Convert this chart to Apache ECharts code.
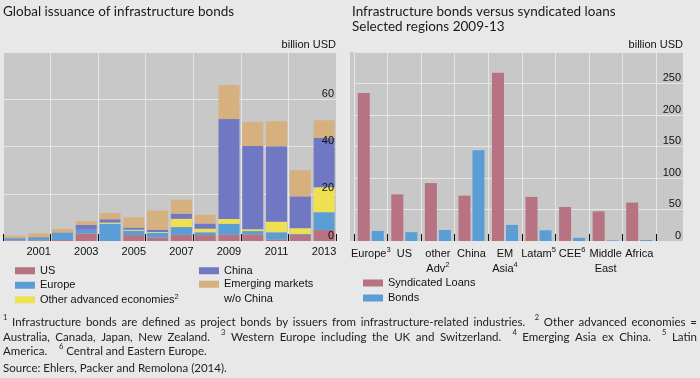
<!DOCTYPE html>
<html>
<head>
<meta charset="UTF-8">
<title>Infrastructure bonds</title>
<style>
	* { margin: 0; padding: 0; }
	html, body { width: 700px; height: 378px; overflow: hidden; background-color: #e8e8e8; }
	#chart { width: 700px; height: 378px; }
</style>
</head>
<body>
<div id="chart"></div>
<script src="https://cdn.jsdelivr.net/npm/echarts@6/dist/echarts.min.js"></script>
<script>
// left panel: issuance by region, billion USD
var years = ['2000', '2001', '2002', '2003', '2004', '2005', '2006', '2007', '2008', '2009', '2010', '2011', '2012', '2013'];
var usBonds = [0.2, 0.3, 0.4, 3.2, 0, 2.5, 1.5, 2.6, 2.5, 2.6, 2.8, 0.7, 2.6, 4.7];
var europeBonds = [0.8, 1.0, 3.0, 1.6, 7.3, 1.9, 2.0, 3.3, 1.2, 4.7, 1.4, 3.0, 0.4, 7.5];
var otherAdvBonds = [0, 0, 0, 0, 0.5, 0.4, 0.3, 3.5, 1.5, 2.0, 0.8, 4.5, 2.4, 10.5];
var chinaBonds = [0.2, 0.3, 0.2, 2.0, 1.4, 0.9, 1.0, 2.2, 2.2, 42.3, 35.2, 31.9, 13.5, 21];
var emBonds = [1.0, 1.6, 1.5, 1.6, 2.6, 4.3, 8.1, 5.9, 3.7, 14.4, 10.2, 10.6, 11.1, 7.4];
var leftTicks = [0, 20, 40, 60, 80];

// right panel: 2009-13 totals
var regions = ['Europe', 'US', 'other Adv', 'China', 'EM Asia', 'Latam', 'CEE', 'Middle East', 'Africa'];
var regionNotes = ['3', '', '2', '', '4', '5', '6', '', ''];
var syndicatedLoans = [235, 74, 92, 72, 267, 70, 54, 47, 61];
var regionBonds = [16, 14, 17.5, 144, 25.5, 17, 5, 1, 1.5];
var rightTicks = [0, 50, 100, 150, 200, 250, 300];

var footLines = [
	'^1 Infrastructure bonds are defined as project bonds by issuers from infrastructure-related industries.  ^2 Other advanced economies =',
	'Australia, Canada, Japan, New Zealand.  ^3 Western Europe including the UK and Switzerland.  ^4 Emerging Asia ex China.  ^5 Latin',
	'America.    ^6 Central and Eastern Europe.',
	'Source: Ehlers, Packer and Remolona (2014).'
];

var plotGray = '#c8c8c8';
var gridWhite = '#e6e6e6';
var pink = '#b77382';
var blue = '#5b9dd5';
var font = 'Liberation Sans';

var chart = echarts.init(document.getElementById('chart'));

// footnotes, first two lines justified like the source
var ctx = document.createElement('canvas').getContext('2d');
function measure(str, size) {
	ctx.font = size + 'px Lato';
	return ctx.measureText(str).width;
}
var notes = [];
function addLine(text, y, justify) {
	var words = text.split(' ');
	var widths = words.map(function(w) {
		return w.charAt(0) === '^' ? measure(w.slice(1), 7.5) : measure(w, 11.5);
	});
	var sum = widths.reduce(function(a, b) { return a + b; }, 0);
	var gap = justify ? (694 - sum) / (words.length - 1) : measure(' ', 11.5);
	var x = 3;
	words.forEach(function(w, i) {
		if (w) {
			var sup = w.charAt(0) === '^';
			notes.push({
				type: 'text',
				x: x,
				y: sup ? y - 4 : y,
				style: {
					text: sup ? w.slice(1) : w,
					font: (sup ? 7.5 : 11.5) + 'px Lato',
					fill: '#222',
					textVerticalAlign: 'middle'
				}
			});
		}
		x += widths[i] + gap;
	});
}
addLine(footLines[0], 322, true);
addLine(footLines[1], 337, true);
addLine(footLines[2], 351, false);
addLine(footLines[3], 368, false);

function yAxisFor(ticks, grid, showLabels, showLines) {
	return {
		type: 'value',
		gridIndex: grid,
		position: 'right',
		offset: 0,
		z: showLabels ? 10 : 0,
		min: ticks[0],
		max: ticks[ticks.length - 1],
		interval: ticks[1] - ticks[0],
		axisLine: { show: false },
		axisTick: { show: false },
		axisLabel: {
			show: showLabels,
			inside: true,
			margin: 2,
			showMaxLabel: false,
			verticalAlign: 'bottom',
			color: '#111',
			fontFamily: font,
			fontSize: 11
		},
		splitLine: { show: showLines, lineStyle: { color: gridWhite, width: 1 } }
	};
}

var legendText = { fontFamily: font, fontSize: 11, color: '#111', lineHeight: 14.5 };

var option = {
	backgroundColor: '#e8e8e8',
	animation: false,
	title: [{
		text: 'Global issuance of infrastructure bonds',
		left: 3,
		top: 4,
		padding: 0,
		textStyle: { fontFamily: 'Lato', fontSize: 13.5, fontWeight: 'normal', color: '#1a1a1a', lineHeight: 15 }
	}, {
		text: 'Infrastructure bonds versus syndicated loans\nSelected regions 2009-13',
		left: 352,
		top: 4,
		padding: 0,
		textStyle: { fontFamily: 'Lato', fontSize: 13.5, fontWeight: 'normal', color: '#1a1a1a', lineHeight: 15 }
	}],
	grid: [
		{ left: 3, right: 364, top: 52, bottom: 137, show: true, backgroundColor: plotGray, borderWidth: 0 },
		{ left: 354, right: 44, top: 52, bottom: 137, show: true, backgroundColor: plotGray, borderWidth: 0 },
		{ left: 656, right: 17, top: 52, bottom: 137, show: true, backgroundColor: plotGray, borderWidth: 0 }
	],
	xAxis: [{
		type: 'category',
		gridIndex: 0,
		data: years,
		axisLine: { show: false },
		axisTick: { show: true, inside: true, length: 7, interval: 1, lineStyle: { color: '#111' } },
		axisLabel: {
			interval: function(index) { return index % 2 === 1; },
			margin: 5,
			color: '#111',
			fontFamily: font,
			fontSize: 11
		},
		splitLine: { show: true, interval: 1, lineStyle: { color: gridWhite, width: 1 } }
	}, {
		type: 'category',
		gridIndex: 1,
		data: regions,
		axisLine: { show: false },
		axisTick: { show: true, inside: true, length: 7, lineStyle: { color: '#111' } },
		axisLabel: {
			interval: 0,
			margin: 5,
			color: '#111',
			fontFamily: font,
			fontSize: 11,
			lineHeight: 15,
			formatter: function(value, index) {
				var txt = value.replace(' ', '\n');
				return regionNotes[index] ? txt + '{s|' + regionNotes[index] + '}' : txt;
			},
			rich: {
				s: { fontSize: 7.5, fontFamily: font, color: '#111', verticalAlign: 'top', lineHeight: 9 }
			}
		},
		splitLine: { show: true, lineStyle: { color: gridWhite, width: 1 } }
	}, {
		type: 'category',
		gridIndex: 2,
		data: [''],
		show: false
	}],
	yAxis: [
		yAxisFor(leftTicks, 0, false, true),
		yAxisFor(rightTicks, 1, false, true),
		yAxisFor(rightTicks, 2, true, true),
		yAxisFor(leftTicks, 0, true, false)
	],
	legend: [{
		left: 15,
		top: 263.5,
		padding: 0,
		orient: 'vertical',
		itemWidth: 20,
		itemHeight: 7,
		itemGap: 0,
		icon: 'rect',
		data: ['US', 'Europe', 'Other advanced economies'],
		formatter: function(name) {
			return name === 'Other advanced economies' ? name + '{s|2}' : name;
		},
		textStyle: {
			fontFamily: font, fontSize: 11, color: '#111', lineHeight: 14.5,
			rich: { s: { fontSize: 7.5, fontFamily: font, color: '#111', verticalAlign: 'top', lineHeight: 9 } }
		}
	}, {
		left: 199,
		top: 263.5,
		padding: 0,
		orient: 'vertical',
		itemWidth: 20,
		itemHeight: 7,
		icon: 'rect',
		data: ['China'],
		textStyle: legendText
	}, {
		// blank first line keeps the swatch level with "Emerging markets"
		left: 199,
		top: 262.5,
		padding: 0,
		orient: 'vertical',
		itemWidth: 20,
		itemHeight: 7,
		icon: 'rect',
		data: ['Emerging markets\nw/o China'],
		formatter: function(name) { return ' \n' + name; },
		textStyle: legendText
	}, {
		left: 363,
		top: 275.5,
		padding: 0,
		orient: 'vertical',
		itemWidth: 20,
		itemHeight: 7,
		itemGap: 0,
		icon: 'rect',
		data: ['Syndicated Loans', 'Bonds'],
		textStyle: { fontFamily: font, fontSize: 11, color: '#111', lineHeight: 15 }
	}],
	graphic: [{
		type: 'rect', shape: { x: 350, y: 52, width: 4, height: 189 },
		style: { fill: plotGray }
	}, {
		type: 'text', x: 336, y: 45,
		style: { text: 'billion USD', font: '11px "Liberation Sans"', fill: '#111', textAlign: 'right', textVerticalAlign: 'middle' }
	}, {
		type: 'text', x: 683, y: 45,
		style: { text: 'billion USD', font: '11px "Liberation Sans"', fill: '#111', textAlign: 'right', textVerticalAlign: 'middle' }
	}].concat(notes),
	series: [
		{ name: 'US', type: 'bar', stack: 'bonds', xAxisIndex: 0, yAxisIndex: 0, barWidth: 21, data: usBonds, itemStyle: { color: pink } },
		{ name: 'Europe', type: 'bar', stack: 'bonds', xAxisIndex: 0, yAxisIndex: 0, barWidth: 21, data: europeBonds, itemStyle: { color: blue } },
		{ name: 'Other advanced economies', type: 'bar', stack: 'bonds', xAxisIndex: 0, yAxisIndex: 0, barWidth: 21, data: otherAdvBonds, itemStyle: { color: '#efe052' } },
		{ name: 'China', type: 'bar', stack: 'bonds', xAxisIndex: 0, yAxisIndex: 0, barWidth: 21, data: chinaBonds, itemStyle: { color: '#7078c3' } },
		{ name: 'Emerging markets\nw/o China', type: 'bar', stack: 'bonds', xAxisIndex: 0, yAxisIndex: 0, barWidth: 21, data: emBonds, itemStyle: { color: '#d6b07e' } },
		{ name: 'Syndicated Loans', type: 'bar', xAxisIndex: 1, yAxisIndex: 1, barWidth: 12, barGap: '17%', data: syndicatedLoans, itemStyle: { color: pink } },
		{ name: 'Bonds', type: 'bar', xAxisIndex: 1, yAxisIndex: 1, barWidth: 12, barGap: '17%', data: regionBonds, itemStyle: { color: blue } }
	]
};
chart.setOption(option);
</script>
</body>
</html>
